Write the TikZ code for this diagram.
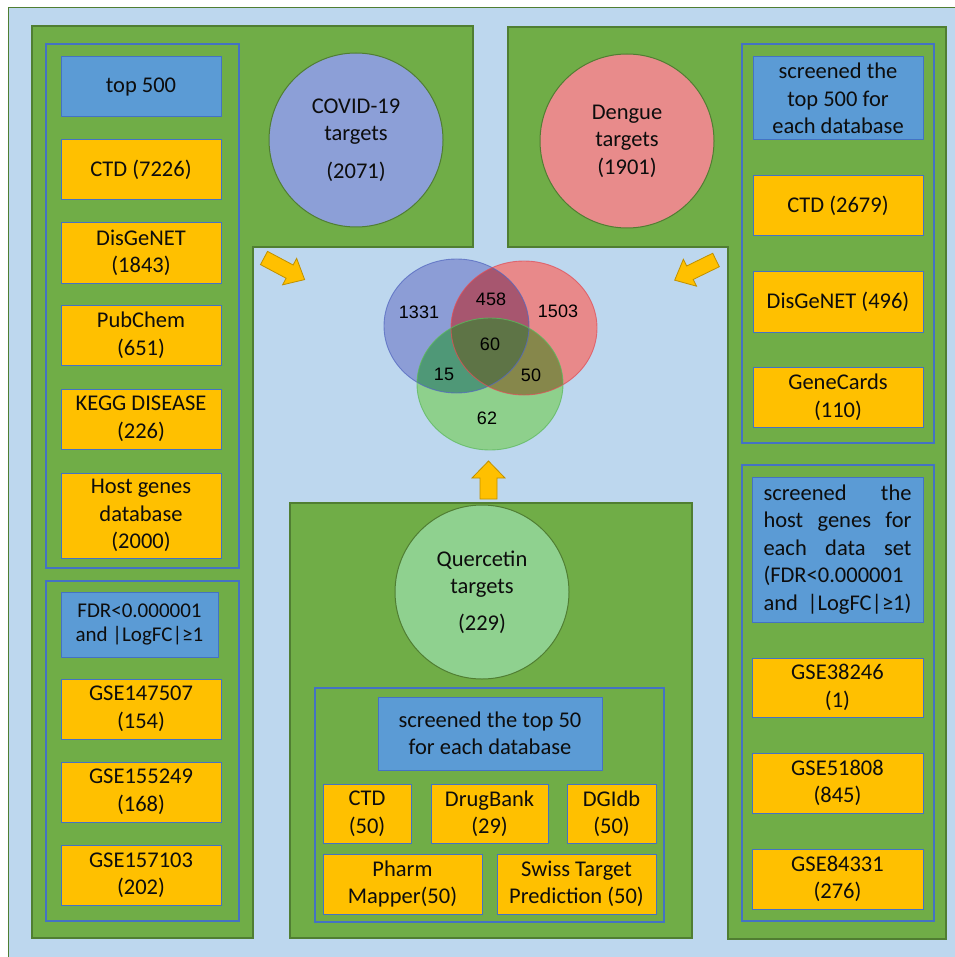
\documentclass[tikz,border=0pt]{standalone}
\usepackage{fontspec}
\setmainfont{Carlito}
\newfontfamily\vennfont{Liberation Sans}
\definecolor{bgblue}{HTML}{BDD7EE}
\definecolor{pgreen}{HTML}{70AD47}
\definecolor{pborder}{HTML}{507E32}
\definecolor{gblue}{HTML}{4472C4}
\definecolor{byellow}{HTML}{FFC000}
\definecolor{bblue}{HTML}{5B9BD5}
\definecolor{ccovid}{HTML}{8C9FD7}
\definecolor{cdengue}{HTML}{E88B8B}
\definecolor{cquer}{HTML}{8FD18F}
\definecolor{arrborder}{HTML}{BF9000}
\definecolor{vb}{HTML}{8C9DD6}
\definecolor{vr}{HTML}{E8898A}
\definecolor{vg}{HTML}{8ED08C}
\definecolor{vbr}{HTML}{A7566F}
\definecolor{vbg}{HTML}{4F9877}
\definecolor{vrg}{HTML}{86874B}
\definecolor{vc}{HTML}{5E7446}
\definecolor{vbl}{HTML}{5468C0}
\definecolor{vrl}{HTML}{E0505A}
\definecolor{vgl}{HTML}{5DB85D}
\definecolor{txt}{HTML}{0D0D0D}
\newcommand\rbox[7]{%
  \node[#2, minimum width={#5pt-#3pt}, minimum height={#6pt-#4pt}] (#1) at ({(#3+#5)/2},{(#4+#6)/2}) {#7};}
\begin{document}
\begin{tikzpicture}[x=1pt,y=-1pt,
  every node/.style={inner sep=0pt, outer sep=0pt, text=txt, align=center, font=\fontsize{22.5}{27.5}\selectfont},
  panel/.style={fill=pgreen, draw=pborder, line width=1.2pt},
  grp/.style={draw=gblue, line width=1.3pt, rectangle},
  ybox/.style={rectangle, fill=byellow, draw=gblue, line width=1pt},
  bbox/.style={rectangle, fill=bblue, draw=gblue, line width=1pt},
  bigcirc/.style={circle, minimum size=174pt, draw=pborder, line width=1pt},
  arrowst/.style={fill=byellow, draw=arrborder, line width=0.8pt, line join=miter},
  vlab/.style={font=\vennfont\fontsize{18}{21}\selectfont, text=black}]
\useasboundingbox (0,0) rectangle (954,957);
\fill[white] (0,0) rectangle (954,957);
\draw[fill=bgblue, draw=pborder, line width=1pt] (8,8) rectangle (975,975);
% panels
\draw[panel] (32,26) -- (473,26) -- (473,247) -- (253,247) -- (253,938) -- (32,938) -- cycle;
\draw[panel] (508,27) -- (946,27) -- (946,939) -- (728,939) -- (728,247) -- (508,247) -- cycle;
\draw[panel] (290,503) rectangle (692,938);
% groups
\rbox{gl1}{grp}{46}{44}{239}{568}{}
\rbox{gl2}{grp}{46}{581}{239}{921}{}
\rbox{gr1}{grp}{742}{44}{934}{443}{}
\rbox{gr2}{grp}{742}{465}{934}{921}{}
\rbox{gb}{grp}{315}{688}{664}{922}{}
% circles
\node[bigcirc, fill=ccovid] (covid) at (356,140) {COVID-19\\targets\\[10pt](2071)};
\node[bigcirc, fill=cdengue] (dengue) at (627,141) {Dengue\\targets\\(1901)};
\node[bigcirc, fill=cquer] (quer) at (482,592) {Quercetin\\targets\\[9pt](229)};
% left boxes
\rbox{top500}{bbox}{61}{57}{221}{117}{top 500}
\rbox{ctdA}{ybox}{61}{140}{221}{200}{CTD (7226)}
\rbox{disA}{ybox}{61}{223}{221}{283}{DisGeNET\\(1843)}
\rbox{pub}{ybox}{61}{305}{221}{365}{PubChem\\(651)}
\rbox{kegg}{ybox}{61}{389}{221}{449}{KEGG DISEASE\\(226)}
\rbox{host}{ybox}{61}{473}{221}{558}{Host genes\\database\\(2000)}
\rbox{fdrA}{bbox, font=\fontsize{21}{24.5}\selectfont}{61}{592}{218}{657}{FDR<0.000001\\and |LogFC|≥1}
\rbox{gseA}{ybox}{61}{679}{221}{739}{GSE147507\\(154)}
\rbox{gseB}{ybox}{61}{762}{221}{822}{GSE155249\\(168)}
\rbox{gseC}{ybox}{61}{845}{221}{905}{GSE157103\\(202)}
% right boxes
\rbox{scrA}{bbox}{753}{57}{923}{140}{screened the\\top 500 for\\each database}
\rbox{ctdB}{ybox}{753}{176}{923}{236}{CTD (2679)}
\rbox{disB}{ybox}{753}{272}{923}{332}{DisGeNET (496)}
\rbox{gene}{ybox}{753}{367}{923}{427}{GeneCards\\(110)}
\rbox{scrB}{bbox, align=left}{752}{477}{923}{622}{\makebox[148pt][s]{screened the}\\\makebox[148pt][s]{host genes for}\\\makebox[148pt][s]{each data set}\\\makebox[148pt][l]{(FDR<0.000001}\\\makebox[148pt][s]{and |LogFC|≥1)}}
\rbox{gseD}{ybox}{752}{658}{923}{717}{GSE38246\\(1)}
\rbox{gseE}{ybox}{752}{753}{923}{813}{GSE51808\\(845)}
\rbox{gseF}{ybox}{752}{849}{923}{909}{GSE84331\\(276)}
% bottom boxes
\rbox{scrC}{bbox}{378}{697}{602}{770}{screened the top 50\\for each database}
\rbox{ctdC}{ybox}{323}{784}{411}{843}{CTD\\(50)}
\rbox{drug}{ybox}{431}{784}{548}{843}{DrugBank\\(29)}
\rbox{dgi}{ybox}{567}{784}{656}{843}{DGIdb\\(50)}
\rbox{pharm}{ybox}{323}{854}{482}{914}{Pharm\\Mapper(50)}
\rbox{swiss}{ybox}{497}{854}{656}{914}{Swiss Target\\Prediction (50)}
% arrows
\begin{scope}[shift={(264,258)}, rotate=-28]
\draw[arrowst] (0,-7.5) -- (29,-7.5) -- (29,-15) -- (46,0) -- (29,15) -- (29,7.5) -- (0,7.5) -- cycle;
\end{scope}
\begin{scope}[shift={(716,260)}, rotate=206]
\draw[arrowst] (0,-7.5) -- (29,-7.5) -- (29,-15) -- (46,0) -- (29,15) -- (29,7.5) -- (0,7.5) -- cycle;
\end{scope}
\draw[arrowst] (472,478) -- (488.5,461) -- (505,478) -- (497,478) -- (497,499) -- (480,499) -- (480,478) -- cycle;
% venn
\fill[vb] (456.5,326) ellipse [x radius=72.5pt, y radius=67pt];
\fill[vr] (524,328) ellipse [x radius=73pt, y radius=67pt];
\fill[vg] (490,384) ellipse [x radius=73pt, y radius=66pt];
\begin{scope}
\clip (456.5,326) ellipse [x radius=72.5pt, y radius=67pt];
\fill[vbr] (524,328) ellipse [x radius=73pt, y radius=67pt];
\fill[vbg] (490,384) ellipse [x radius=73pt, y radius=66pt];
\end{scope}
\begin{scope}
\clip (524,328) ellipse [x radius=73pt, y radius=67pt];
\fill[vrg] (490,384) ellipse [x radius=73pt, y radius=66pt];
\end{scope}
\begin{scope}
\clip (456.5,326) ellipse [x radius=72.5pt, y radius=67pt];
\clip (524,328) ellipse [x radius=73pt, y radius=67pt];
\fill[vc] (490,384) ellipse [x radius=73pt, y radius=66pt];
\end{scope}
\draw[vbl, draw opacity=0.75, line width=0.9pt] (456.5,326) ellipse [x radius=72.5pt, y radius=67pt];
\draw[vrl, draw opacity=0.75, line width=0.9pt] (524,328) ellipse [x radius=73pt, y radius=67pt];
\draw[vgl, draw opacity=0.75, line width=0.9pt] (490,384) ellipse [x radius=73pt, y radius=66pt];
\node[vlab] (n1331) at (419,312) {1331};
\node[vlab] (n458) at (491,299) {458};
\node[vlab] (n1503) at (558,311) {1503};
\node[vlab] (n60) at (490,344) {60};
\node[vlab] (n15) at (444,374) {15};
\node[vlab] (n50) at (531,375) {50};
\node[vlab] (n62) at (487,418) {62};
\end{tikzpicture}
\end{document}
